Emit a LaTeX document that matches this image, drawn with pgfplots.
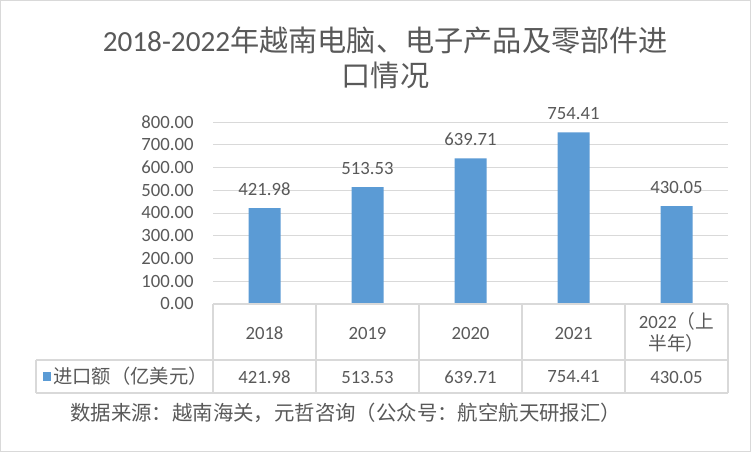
\documentclass[border=0pt]{standalone}
\usepackage{pgfplots}
\pgfplotsset{compat=1.18}
\usepackage{fontspec}
\setmainfont{Carlito}
\newfontfamily\cjk{Noto Sans CJK SC}
\definecolor{barblue}{HTML}{5B9BD5}
\definecolor{txt}{HTML}{595959}
\definecolor{gridc}{HTML}{D9D9D9}
\begin{document}
\begin{tikzpicture}[x=1bp,y=1bp]
\fill[white] (0,0) rectangle (751,-452);
\draw[gridc, line width=1.2bp] (0.6,-0.6) rectangle (750.4,-451.4);
% title
\node[txt, font=\fontsize{29.2bp}{34bp}\selectfont, inner sep=0] at (385.5,-40) {2018-2022{\cjk 年越南电脑、电子产品及零部件进}};
\node[txt, font=\fontsize{29.2bp}{34bp}\selectfont\cjk, inner sep=0] at (385.5,-75) {口情况};
\begin{axis}[
  at={(213bp,-304bp)}, anchor=south west,
  scale only axis, width=515bp, height=182bp,
  xmin=-0.5, xmax=4.5, ymin=0, ymax=800,
  ytick={0,100,...,800}, xtick=\empty,
  major tick length=0,
  axis line style={draw=none},
  ymajorgrids, grid style={gridc, line width=1bp},
  clip=false,
  /pgf/number format/assume math mode=true,
  yticklabel style={txt, font=\fontsize{18.7bp}{22bp}\selectfont, anchor=east, xshift=-16bp,
     /pgf/number format/.cd, fixed, fixed zerofill, precision=2, 1000 sep={}},
]
\addplot[ybar, bar width=32bp, fill=barblue, draw=none,
  point meta=explicit symbolic,
  nodes near coords={\pgfplotspointmeta},
  every node near coord/.append style={txt, font=\fontsize{18.7bp}{22bp}\selectfont, anchor=base, inner sep=0, yshift=13bp}]
  coordinates {(0,421.98) [421.98] (1,513.53) [513.53] (2,639.71) [639.71] (3,754.41) [754.41] (4,430.05) [430.05]};
% table text
\begin{scope}[every node/.style={txt, font=\fontsize{18.7bp}{22bp}\selectfont, inner sep=0}]
\node at ([yshift=-29bp]axis cs:0,0) {2018};
\node at ([yshift=-29bp]axis cs:1,0) {2019};
\node at ([yshift=-29bp]axis cs:2,0) {2020};
\node at ([yshift=-29bp]axis cs:3,0) {2021};
\node at ([yshift=-17bp]axis cs:4,0) {2022{\cjk （上}};
\node at ([yshift=-39bp]axis cs:4,0) {\cjk 半年）};
\node at ([yshift=-73bp]axis cs:0,0) {421.98};
\node at ([yshift=-73bp]axis cs:1,0) {513.53};
\node at ([yshift=-73bp]axis cs:2,0) {639.71};
\node at ([yshift=-73bp]axis cs:3,0) {754.41};
\node at ([yshift=-73bp]axis cs:4,0) {430.05};
\end{scope}
\end{axis}
% table grid
\begin{scope}[gridc, line width=1.2bp]
\draw (213,-304) -- (728,-304);
\draw (36,-360) -- (728,-360);
\draw (36,-393) -- (728,-393);
\draw (36,-360) -- (36,-393);
\foreach \xx in {213,316,419,522,625,728} \draw (\xx,-304) -- (\xx,-393);
\end{scope}
\fill[barblue] (43,-372) rectangle (51,-381);
\node[txt, font=\fontsize{19.3bp}{22bp}\selectfont\cjk, anchor=west, inner sep=0] at (53,-376.5) {进口额（亿美元）};
% source
\node[txt, font=\fontsize{20.4bp}{24bp}\selectfont\cjk, anchor=west, inner sep=0] at (70,-413) {数据来源：越南海关，元哲咨询（公众号：航空航天研报汇）};
\end{tikzpicture}
\end{document}
